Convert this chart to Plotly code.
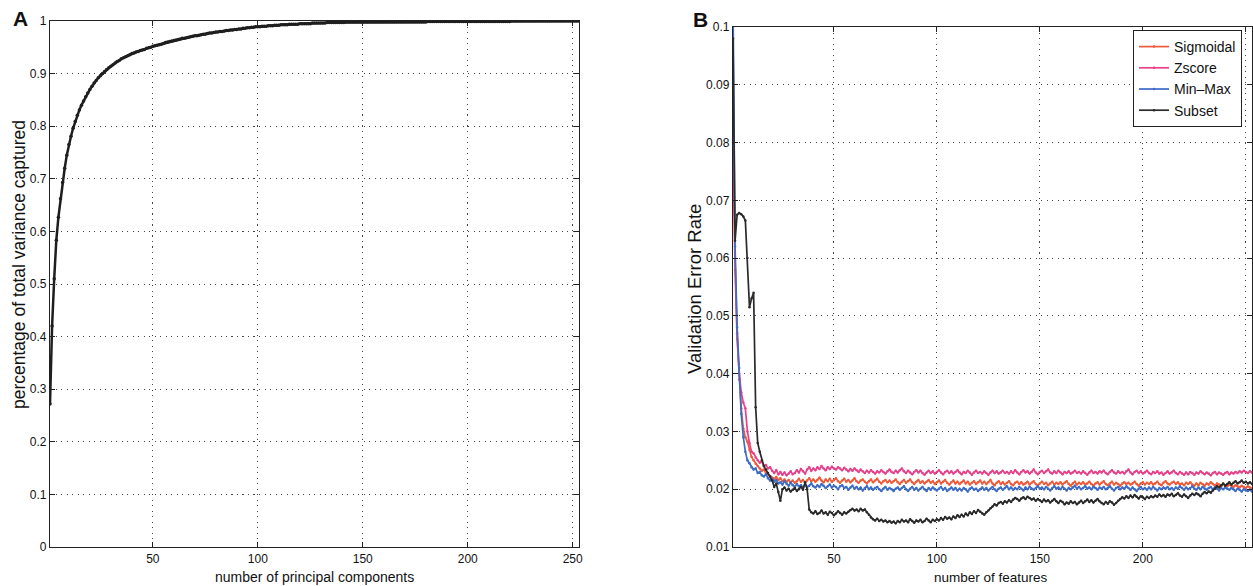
import plotly.graph_objects as go

# ---------------- data ----------------
# Panel A: cumulative fraction of variance (x1000) for components 1..253
components = list(range(1, 254))
cum_var_x1000 = [
    272, 420, 510, 583, 627, 662, 693, 720, 745, 765,
    781, 796, 809, 821, 831, 840, 848, 856, 863, 870,
    876, 882, 887, 892, 896, 900, 904, 908, 911, 914,
    917, 920, 923, 925, 928, 930, 932, 934, 936, 938,
    939, 941, 942, 944, 945, 946, 948, 949, 950, 952,
    953, 954, 955, 956, 957, 959, 960, 961, 962, 963,
    964, 965, 966, 967, 967, 968, 969, 970, 971, 972,
    972, 973, 974, 975, 975, 976, 977, 977, 978, 979,
    979, 980, 980, 981, 982, 982, 983, 983, 984, 984,
    985, 985, 986, 986, 987, 987, 988, 988, 989, 989,
    989, 990, 990, 990, 991, 991, 991, 992, 992, 992,
    993, 993, 993, 993, 994, 994, 994, 994, 994, 995,
    995, 995, 995, 995, 995, 996, 996, 996, 996, 996,
    996, 996, 997, 997, 997, 997, 997, 997, 997, 997,
    997, 998, 998, 998, 998, 998, 998, 998, 998, 998,
    998, 998, 998, 998, 998, 998, 998, 998, 998, 998,
    998, 998, 998, 998, 998, 998, 998, 998, 998, 998,
    998, 998, 998, 998, 998, 998, 998, 998, 998, 998,
    999, 999, 999, 999, 999, 999, 999, 999, 999, 999,
    999, 999, 999, 999, 999, 999, 999, 999, 999, 999,
    999, 999, 999, 999, 999, 999, 999, 999, 999, 999,
    999, 999, 999, 999, 999, 999, 999, 999, 999, 999,
    1000, 1000, 1000, 1000, 1000, 1000, 1000, 1000, 1000, 1000,
    1000, 1000, 1000, 1000, 1000, 1000, 1000, 1000, 1000, 1000,
    1000, 1000, 1000, 1000, 1000, 1000, 1000, 1000, 1000, 1000,
    1000, 1000, 1000,
]

# Panel B: validation error rate (x10000) for features 1..253
features = list(range(1, 254))
sigmoidal_x1e4 = [
    800, 580, 460, 390, 340, 305, 290, 282, 268, 256,
    250, 244, 240, 236, 232, 234, 228, 226, 223, 220,
    218, 221, 216, 219, 214, 217, 213, 216, 212, 215,
    211, 214, 218, 213, 216, 212, 215, 219, 214, 217,
    213, 216, 220, 215, 212, 217, 214, 218, 213, 216,
    219, 214, 211, 215, 218, 213, 216, 212, 215, 219,
    214, 211, 215, 217, 213, 210, 214, 217, 212, 215,
    218, 213, 210, 214, 216, 212, 215, 211, 214, 217,
    212, 209, 213, 216, 211, 214, 217, 212, 209, 213,
    216, 211, 214, 210, 213, 216, 211, 214, 209, 212,
    215, 210, 213, 216, 211, 208, 212, 215, 210, 213,
    209, 212, 215, 210, 213, 208, 211, 214, 209, 212,
    215, 210, 213, 209, 212, 216, 210, 207, 211, 214,
    209, 212, 208, 211, 214, 209, 207, 211, 213, 209,
    212, 208, 210, 213, 208, 211, 214, 209, 206, 210,
    213, 209, 211, 207, 210, 213, 208, 211, 209, 212,
    208, 211, 214, 209, 206, 210, 213, 208, 211, 209,
    212, 208, 210, 213, 209, 206, 210, 212, 208, 211,
    214, 209, 207, 210, 213, 208, 211, 209, 206, 210,
    212, 209, 211, 208, 210, 213, 209, 206, 210, 212,
    208, 211, 209, 212, 208, 210, 213, 209, 207, 211,
    214, 210, 208, 211, 213, 209, 212, 208, 210, 207,
    211, 209, 212, 208, 206, 210, 207, 211, 209, 206,
    210, 208, 212, 209, 206, 210, 208, 205, 209, 207,
    205, 208, 206, 204, 207, 205, 203, 206, 204, 202,
    205, 203, 201,
]
zscore_x1e4 = [
    850, 600, 470, 400, 368, 350, 340, 300, 280, 265,
    262, 255, 250, 246, 248, 240, 242, 236, 238, 232,
    228, 233, 226, 230, 225, 229, 224, 227, 231, 226,
    228, 233, 229, 235, 231, 227, 234, 238, 232, 236,
    233, 238, 235, 240, 236, 233, 238, 235, 239, 236,
    234, 238, 236, 233, 237, 234, 231, 235, 232, 236,
    233, 230, 234, 231, 228, 232, 229, 233, 230, 227,
    231, 229, 233, 230, 227, 231, 234, 230, 228, 232,
    229, 233, 236, 231, 228, 232, 229, 226, 230, 233,
    229, 232, 228, 225, 229, 232, 228, 231, 227, 230,
    233, 229, 226, 230, 232, 228, 231, 227, 230, 233,
    229, 226, 230, 228, 232, 229, 225, 229, 232, 228,
    230, 227, 231, 228, 225, 229, 232, 228, 231, 227,
    229, 232, 228, 230, 227, 231, 228, 233, 229, 226,
    230, 233, 229, 231, 227, 230, 234, 229, 226, 230,
    232, 228, 231, 234, 229, 227, 231, 228, 232, 229,
    226, 230, 228, 231, 227, 229, 232, 228, 230, 227,
    231, 228, 225, 229, 232, 228, 230, 227, 231, 229,
    232, 228, 226, 230, 233, 229, 227, 231, 228, 230,
    227, 231, 234, 229, 226, 230, 232, 228, 231, 227,
    229, 232, 228, 226, 230, 228, 231, 227, 229, 225,
    228, 231, 227, 229, 232, 228, 226, 230, 227, 225,
    229, 226, 230, 228, 225, 229, 227, 231, 228, 226,
    229, 227, 224, 228, 230, 226, 229, 227, 225, 228,
    230, 226, 229, 227, 230, 228, 231, 229, 232, 230,
    228, 231, 229,
]
minmax_x1e4 = [
    1050, 620, 480, 410, 330, 290, 265, 250, 245, 238,
    234, 236, 228, 230, 224, 222, 226, 219, 215, 218,
    213, 216, 210, 212, 208, 214, 209, 206, 211, 207,
    204, 209, 205, 207, 203, 208, 204, 206, 210, 205,
    203, 207, 204, 209, 206, 202, 205, 208, 203, 206,
    204, 200, 205, 207, 202, 204, 199, 203, 206, 201,
    204, 200, 203, 198, 202, 205, 200, 203, 199, 202,
    204, 200, 197, 201, 204, 199, 202, 200, 197, 201,
    203, 199, 202, 205, 200, 197, 201, 204, 199, 202,
    198, 201, 204, 200, 197, 202, 199, 203, 200, 198,
    201, 204, 199, 202, 197, 200, 203, 199, 202, 198,
    201, 198, 202, 200, 196, 201, 203, 199, 201, 197,
    200, 203, 199, 202, 198, 201, 204, 200, 197, 201,
    203, 199, 202, 205, 200, 203, 199, 202, 200, 204,
    201, 198, 203, 200, 204, 201, 199, 202, 205, 201,
    203, 200, 204, 201, 198, 202, 205, 201, 203, 200,
    204, 201, 198, 202, 200, 203, 206, 201, 204, 200,
    202, 205, 201, 203, 200, 204, 202, 199, 203, 201,
    204, 200, 202, 205, 201, 198, 202, 204, 200, 203,
    201, 205, 202, 199, 203, 200, 197, 201, 204, 200,
    202, 199, 203, 200, 204, 201, 198, 202, 200, 203,
    201, 204, 200, 202, 199, 203, 201, 205, 202, 199,
    203, 200, 202, 205, 201, 199, 203, 200, 204, 201,
    199, 202, 204, 200, 203, 201, 198, 202, 200, 203,
    201, 199, 202, 200, 197, 201, 199, 196, 200, 198,
    197, 199, 196,
]
subset_x1e4 = [
    980, 630, 675, 678, 676, 672, 665, 600, 515, 530,
    540, 342, 280, 265, 250, 240, 234, 228, 222, 215,
    204, 210, 195, 180, 200, 203, 198, 201, 196, 199,
    202, 197, 200, 204, 199, 212, 200, 165, 160, 158,
    162, 157, 159, 163, 158, 160, 156, 161, 159, 155,
    158, 162, 159, 156, 160, 158, 161, 164, 166, 163,
    165, 162, 166, 163, 165, 160, 156, 151, 148, 146,
    149, 145, 147, 144, 146, 143, 145, 142, 144, 141,
    145, 143, 147, 144, 146, 143, 148, 145, 142, 146,
    144, 147, 143, 145, 149, 146, 143, 147, 145, 148,
    146, 150, 147, 152, 149, 151, 148, 153, 150, 155,
    152, 156, 153, 158, 155, 160, 157, 162, 159, 164,
    161, 158, 156, 160, 163, 167, 170, 174, 172, 176,
    178, 175, 179, 177, 181, 178, 182, 185, 183, 180,
    184, 186, 183, 187, 185, 182, 184, 180, 183, 181,
    178, 182, 179, 181, 177, 180, 183, 179, 176, 180,
    178, 174, 177, 175, 179, 176, 178, 174, 177, 180,
    176, 179, 182, 178, 181, 177, 180, 183, 179, 176,
    174, 178, 175, 179, 177, 173, 176, 180, 183, 186,
    184, 188, 185, 189, 186, 190, 187, 184, 188, 186,
    183, 187, 185, 188, 186, 189, 187, 191, 188, 190,
    187, 191, 189, 192, 188, 190, 193, 189, 187, 191,
    188, 185, 189, 192, 190, 193, 191, 188, 192, 195,
    193, 196, 194, 198, 201, 205, 203, 207, 210, 206,
    209, 212, 208, 211, 214, 210, 212, 215, 211, 213,
    210, 212, 209,
]

series_names = ["Sigmoidal", "Zscore", "Min\u2013Max", "Subset"]
series_values = [sigmoidal_x1e4, zscore_x1e4, minmax_x1e4, subset_x1e4]
series_colors = ["#ee5a3a", "#e6418a", "#3c6cc6", "#2a2a2a"]

x_ticks = [50, 100, 150, 200, 250]
a_yticks = [0, 0.1, 0.2, 0.3, 0.4, 0.5, 0.6, 0.7, 0.8, 0.9, 1]
a_ytick_text = ["0", "0.1", "0.2", "0.3", "0.4", "0.5", "0.6", "0.7", "0.8", "0.9", "1"]
b_yticks = [0.01, 0.02, 0.03, 0.04, 0.05, 0.06, 0.07, 0.08, 0.09, 0.1]
b_ytick_text = ["0.01", "0.02", "0.03", "0.04", "0.05", "0.06", "0.07", "0.08", "0.09", "0.1"]

# ---------------- figure ----------------
W, H = 1253, 586
FONT = "Liberation Sans, Arial, Helvetica, sans-serif"

fig = go.Figure()

fig.add_trace(go.Scatter(
    x=components, y=[v / 1000 for v in cum_var_x1000],
    mode="lines+markers", line=dict(color="#1e1e1e", width=2.5),
    marker=dict(size=3.5, color="#1e1e1e"), showlegend=False,
    xaxis="x", yaxis="y",
))

for name, vals, col in zip(series_names, series_values, series_colors):
    fig.add_trace(go.Scatter(
        x=features, y=[v / 10000 for v in vals],
        mode="lines+markers", name=name,
        line=dict(color=col, width=1.7),
        marker=dict(size=2.5, color=col),
        xaxis="x2", yaxis="y2",
    ))

axis_common = dict(
    showline=True, linecolor="#222", linewidth=1.3, mirror="ticks",
    ticks="inside", ticklen=5, tickcolor="#222", tickwidth=1.2,
    showgrid=True, gridcolor="#444", griddash="1.3px,4.2px", gridwidth=1.3,
    zeroline=False, tickfont=dict(family=FONT, size=12, color="#111"),
)


def label(text, x, y, size, angle=0):
    return dict(text=text, x=x / W, y=(H - y) / H, xref="paper", yref="paper",
                showarrow=False, textangle=angle,
                font=dict(family=FONT, size=size, color="#111"),
                xanchor="center", yanchor="middle")


fig.update_layout(
    width=W, height=H,
    margin=dict(l=0, r=0, t=0, b=0),
    paper_bgcolor="white", plot_bgcolor="white",
    font=dict(family=FONT, color="#111"),
    xaxis=dict(domain=[50 / W, 579 / W], range=[1, 253], tickvals=x_ticks,
               anchor="y", automargin=False, **axis_common),
    yaxis=dict(domain=[(H - 547) / H, (H - 21) / H], range=[0, 1],
               tickvals=a_yticks, ticktext=a_ytick_text, anchor="x", automargin=False,
               **axis_common),
    xaxis2=dict(domain=[733 / W, 1252 / W], range=[1, 253], tickvals=x_ticks,
                anchor="y2", automargin=False, **axis_common),
    yaxis2=dict(domain=[(H - 547) / H, (H - 27) / H], range=[0.01, 0.1],
                tickvals=b_yticks, ticktext=b_ytick_text, anchor="x2", automargin=False,
                **axis_common),
    legend=dict(x=1133 / W, xanchor="left", y=(H - 30) / H, yanchor="top",
                bgcolor="white", bordercolor="#222", borderwidth=1,
                font=dict(family=FONT, size=14, color="#111"),
                tracegroupgap=0, itemwidth=30),
    annotations=[
        label("<b>A</b>", 20, 18, 21),
        label("<b>B</b>", 700, 20, 21),
        label("number of principal components", 314, 577, 14),
        label("percentage of total variance captured", 19, 265, 17.5, -90),
        label("number of features", 991, 577, 13.5),
        label("Validation Error Rate", 694, 289, 18.5, -90),
    ],
)

fig.write_html(
    "out.html",
    config={"displayModeBar": False},
    post_script="document.body.style.margin='0';document.body.style.overflow='hidden';",
)
